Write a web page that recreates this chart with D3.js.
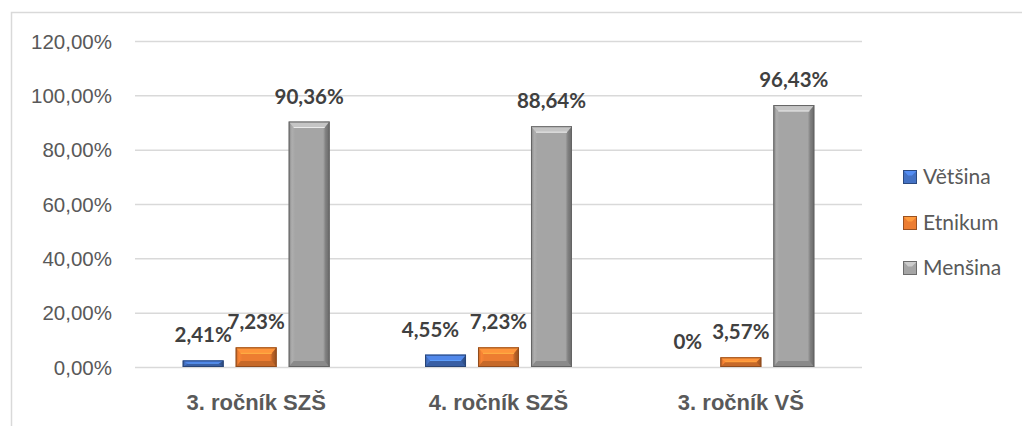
<!DOCTYPE html>
<html>
<head>
<meta charset="utf-8">
<script src="https://cdn.jsdelivr.net/npm/d3@7"></script>
<style>
  html, body { margin: 0; padding: 0; background: #fff; }
  svg { display: block; font-family: Lato, "Open Sans", "Liberation Sans", sans-serif; }
</style>
</head>
<body>
<svg id="chart" width="1022" height="426"></svg>
<script>
// Categories, series and their values (percent)
const categories = ["3. ročník SZŠ", "4. ročník SZŠ", "3. ročník VŠ"];
const seriesNames = ["Většina", "Etnikum", "Menšina"];
const vetsina = [2.41, 4.55, 0];
const etnikum = [7.23, 7.23, 3.57];
const mensina = [90.36, 88.64, 96.43];
const yTicks = [0, 20, 40, 60, 80, 100, 120];
const colors = ["#4472c4", "#ed7d31", "#a5a5a5"];
// small horizontal nudges of value labels to avoid overlaps
const labelShift = [[0, 0, 0], [-15, 0, 0], [0, 0, 0]];

const seriesValues = [vetsina, etnikum, mensina];
const svg = d3.select("#chart");

// Chart frame (top and left edges visible)
svg.append("rect").attr("x", 11.5).attr("y", 12.5).attr("width", 1100).attr("height", 500)
  .attr("fill", "none").attr("stroke", "#d9d9d9").attr("stroke-width", 1.5);

const plot = { left: 135, right: 862, top: 41, bottom: 367 };

const x0 = d3.scaleBand().domain(categories).range([plot.left, plot.right]).paddingInner(0).paddingOuter(0);
const x1 = d3.scaleBand().domain(seriesNames).range([0, 147]).paddingInner(0.226).paddingOuter(0);
const y = d3.scaleLinear().domain([0, 120]).range([plot.bottom, plot.top]);

// Gridlines
svg.append("g").selectAll("line").data(yTicks).join("line")
  .attr("x1", plot.left).attr("x2", plot.right)
  .attr("y1", d => y(d) + 0.5).attr("y2", d => y(d) + 0.5)
  .attr("stroke", "#d9d9d9").attr("stroke-width", 1.5);

// Y axis labels
const yAxis = d3.axisLeft(y).tickValues(yTicks).tickSize(0).tickPadding(0)
  .tickFormat(d => d3.format(".2f")(d).replace(".", ",") + "%");
const gy = svg.append("g").attr("transform", `translate(112,0)`).call(yAxis);
gy.select(".domain").remove();
gy.selectAll("text").attr("fill", "#595959").attr("font-size", 20.5).attr("dy", "0.35em");

// X axis labels
const xAxis = d3.axisBottom(x0).tickSize(0).tickPadding(0);
const gx = svg.append("g").attr("transform", `translate(0,${plot.bottom})`).call(xAxis);
gx.select(".domain").remove();
gx.selectAll("text").attr("fill", "#595959").attr("font-size", 22).attr("font-weight", "bold")
  .attr("dy", 0).attr("y", 43);

// Gradients for bevelled bars
const defs = svg.append("defs");
colors.forEach((c, i) => {
  const base = d3.color(c);
  const g = defs.append("linearGradient").attr("id", "grad" + i).attr("x1", 0).attr("x2", 1).attr("y1", 0).attr("y2", 0);
  g.append("stop").attr("offset", "0%").attr("stop-color", base.darker(0.6));
  g.append("stop").attr("offset", "8%").attr("stop-color", base.brighter(0.15));
  g.append("stop").attr("offset", "16%").attr("stop-color", base);
  g.append("stop").attr("offset", "84%").attr("stop-color", base);
  g.append("stop").attr("offset", "90%").attr("stop-color", base.darker(0.7));
  g.append("stop").attr("offset", "100%").attr("stop-color", base.darker(1.3));
});

const bars = [];
categories.forEach((cat, ci) => {
  seriesNames.forEach((s, si) => {
    bars.push({ cat, ci, s, si, v: seriesValues[si][ci] });
  });
});

const barG = svg.append("g");
bars.forEach(b => {
  const bx = x0(b.cat) + (x0.bandwidth() - 147) / 2 + x1(b.s);
  const bw = x1.bandwidth();
  const top = y(b.v), bot = y(0);
  const h = bot - top;
  if (h <= 0) return;
  const base = d3.color(colors[b.si]);
  const g = barG.append("g");
  g.append("rect").attr("x", bx).attr("y", top).attr("width", bw).attr("height", h)
    .attr("fill", `url(#grad${b.si})`);
  const inset = Math.min(6, h / 2);
  const side = Math.min(5, bw / 2);
  // top bevel
  g.append("path")
    .attr("d", `M${bx},${top} L${bx + bw},${top} L${bx + bw - side},${top + inset} L${bx + side},${top + inset} Z`)
    .attr("fill", base.brighter(0.5));
  g.append("path")
    .attr("d", `M${bx + side},${top + inset} L${bx + bw - side},${top + inset}`)
    .attr("stroke", base.brighter(1.0)).attr("stroke-width", 1);
  // bottom bevel
  g.append("path")
    .attr("d", `M${bx},${bot} L${bx + bw},${bot} L${bx + bw - side},${bot - inset} L${bx + side},${bot - inset} Z`)
    .attr("fill", base.darker(0.5));
  g.append("rect").attr("x", bx + 0.5).attr("y", top + 0.5).attr("width", bw - 1).attr("height", Math.max(0, h - 1))
    .attr("fill", "none").attr("stroke", base.darker(1.4)).attr("stroke-width", 1);
});

// Value labels
svg.append("g").selectAll("text").data(bars).join("text")
  .attr("x", b => x0(b.cat) + (x0.bandwidth() - 147) / 2 + x1(b.s) + x1.bandwidth() / 2 + labelShift[b.ci][b.si])
  .attr("y", b => y(b.v) - 18)
  .attr("text-anchor", "middle")
  .attr("fill", "#404040").attr("font-size", 20.5).attr("font-weight", "bold")
  .text(b => (b.v === 0 ? "0" : d3.format(".2f")(b.v).replace(".", ",")) + "%");

// Legend
const legend = svg.append("g").attr("transform", "translate(903,0)");
const legY = [177, 223, 268];
seriesNames.forEach((s, i) => {
  const base = d3.color(colors[i]);
  const g = legend.append("g").attr("transform", `translate(0,${legY[i]})`);
  g.append("rect").attr("x", 0.5).attr("y", -6.5).attr("width", 13).attr("height", 13)
    .attr("fill", base).attr("stroke", base.darker(1.2)).attr("stroke-width", 1);
  g.append("path").attr("d", "M1,-6 L13.5,-6 L9,-1.5 L5,-1.5 Z").attr("fill", base.brighter(0.6));
  g.append("text").attr("x", 20).attr("y", 0).attr("dy", "0.35em")
    .attr("fill", "#595959").attr("font-size", 21).text(s);
});
</script>
</body>
</html>
